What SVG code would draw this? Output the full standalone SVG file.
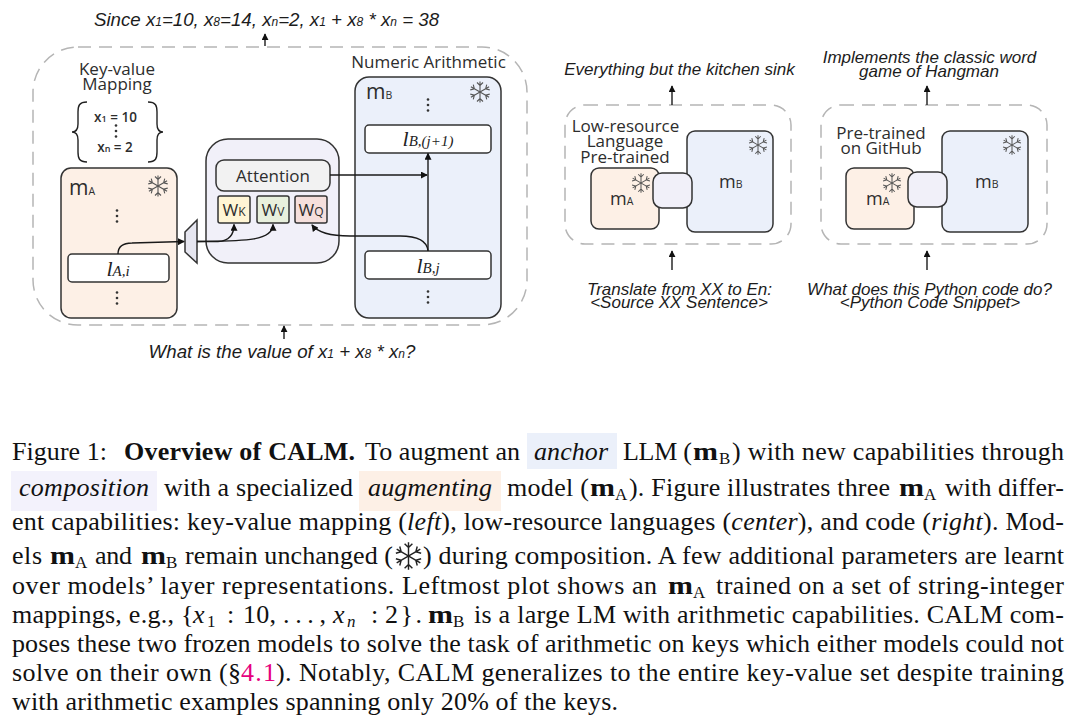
<svg xmlns="http://www.w3.org/2000/svg" width="1080" height="720" viewBox="0 0 1080 720">
<style>
.dash{fill:none;stroke:#b5b5b5;stroke-width:1.5;stroke-dasharray:13 8}
.box{stroke:#333;stroke-width:1.5}
.ma{fill:#fdf0e6}.mb{fill:#ebf0fa}.at{fill:#f1f0f9}
.wh{fill:#fff}
.lb{font-family:"Open Sans","Noto Sans",sans-serif;fill:#2d2d2d;font-size:17px;text-anchor:middle}
.it{font-family:"Liberation Sans",Arial,sans-serif;font-style:italic;fill:#1c1c1c;font-size:17px;text-anchor:middle}
.hd{font-size:18.7px}
.s{font-size:12px}
.kv{font-family:"Open Sans","Noto Sans",sans-serif;font-weight:600;fill:#2d2d2d;font-size:13.5px;text-anchor:middle}
.kv2{font-size:9px}
.m{font-family:"Open Sans","Noto Sans",sans-serif;fill:#2d2d2d;font-size:21px}
.m3{font-size:18px}
.m2{font-size:10.5px}
.w{font-family:"Open Sans","Noto Sans",sans-serif;fill:#2d2d2d;font-size:17px;text-anchor:middle}
.w2{font-size:12px}
.ll{font-family:"Liberation Serif",serif;font-style:italic;fill:#222;text-anchor:middle;font-size:15px}
.ll1{font-size:22px}
.c{font-family:"Liberation Serif",serif;fill:#111;font-size:26px}
.i{font-style:italic}
.b{font-weight:bold}
.sub{font-size:17px}
.pink{fill:#e6007e}
.con{fill:none;stroke:#1a1a1a;stroke-width:1.4}
.dot{fill:#333}
.cap-a{fill:#ebf0fa}.cap-c{fill:#f3f2fc}.cap-m{fill:#fdf0e6}
</style>
<defs>
<marker id="ah" viewBox="0 0 8 8" refX="7" refY="4" markerWidth="7" markerHeight="7" markerUnits="userSpaceOnUse" orient="auto"><path d="M0 0L8 4L0 8Z" fill="#111"/></marker>
<g id="arm" fill="none" stroke="currentColor" stroke-width="1.1"><path d="M0-10.500V10.500M-3-9.500L0-6.500L3-9.500M-3 9.500L0 6.500L3 9.500"/></g>
<g id="snow"><use href="#arm"/><use href="#arm" transform="rotate(60)"/><use href="#arm" transform="rotate(120)"/></g>
<g id="dots"><circle cx="0" cy="-5.500" r="1.3" class="dot"/><circle cx="0" cy="0" r="1.3" class="dot"/><circle cx="0" cy="5.500" r="1.3" class="dot"/></g>
</defs>
<rect width="1080" height="720" fill="#fff"/>

<g id="panel-left"><rect class="dash" x="33" y="47" width="494" height="278" rx="45"/></g>
<g id="panel-center"><rect class="dash" x="565" y="105" width="226" height="139" rx="20"/></g>
<g id="panel-right"><rect class="dash" x="821" y="105" width="226" height="139" rx="20"/></g>

<g id="left-titles">
<text class="it hd" x="266.500" y="26">Since x<tspan class="s">1</tspan>=10, x<tspan class="s">8</tspan>=14, x<tspan class="s">n</tspan>=2, x<tspan class="s">1</tspan> + x<tspan class="s">8</tspan> * x<tspan class="s">n</tspan> = 38</text>
<text class="it hd" x="282" y="358">What is the value of x<tspan class="s">1</tspan> + x<tspan class="s">8</tspan> * x<tspan class="s">n</tspan>?</text>
</g>

<g id="key-value">
<text class="lb" x="117" y="75">Key-value</text>
<text class="lb" x="117" y="90">Mapping</text>
<path d="M87 102C79 102 78 106 78 112V124C78 129 76 132 72 132C76 132 78 135 78 140V152C78 158 79 162 87 162" fill="none" stroke="#222" stroke-width="1.4"/>
<path d="M148 102C156 102 157 106 157 112V124C157 129 159 132 163 132C159 132 157 135 157 140V152C157 158 156 162 148 162" fill="none" stroke="#222" stroke-width="1.4"/>
<text class="kv" x="115.500" y="122">x<tspan class="kv2">1</tspan> = 10</text>
<use href="#dots" x="116" y="131"/>
<text class="kv" x="115" y="152">x<tspan class="kv2">n</tspan> = 2</text>
</g>

<g id="node-ma">
<rect class="box ma" x="61" y="168" width="116" height="150" rx="10"/>
<text class="m" x="69" y="195">m<tspan class="m2">A</tspan></text>
<use href="#snow" x="158" y="186" color="#555"/>
<use href="#dots" x="117" y="216"/>
<rect class="box wh" x="68" y="254" width="101" height="28" rx="4"/>
<text class="ll" x="118" y="276"><tspan class="ll1">l</tspan>A,i</text>
<use href="#dots" x="117" y="298"/>
</g>

<g id="node-attention">
<rect class="box at" x="206" y="139" width="133" height="124" rx="22"/>
<rect class="box" x="216" y="160" width="114" height="31" rx="8" fill="#f2f2f2"/>
<text class="lb" x="273" y="182">Attention</text>
<g id="wk"><rect class="box" x="218" y="196" width="32" height="27" rx="2" fill="#fff5d5"/><text class="w" x="234" y="215.500">W<tspan class="w2">K</tspan></text></g>
<g id="wv"><rect class="box" x="257" y="196" width="32" height="27" rx="2" fill="#e8f0dd"/><text class="w" x="273" y="215.500">W<tspan class="w2">V</tspan></text></g>
<g id="wq"><rect class="box" x="295" y="196" width="32" height="27" rx="2" fill="#f5dfdc"/><text class="w" x="311" y="215.500">W<tspan class="w2">Q</tspan></text></g>
</g>

<g id="node-proj"><path class="box" d="M185 232L197 220V263L185 252Z" fill="#e6e6f0"/></g>

<g id="node-mb">
<text class="lb" x="428.500" y="68">Numeric Arithmetic</text>
<rect class="box mb" x="355" y="77" width="146" height="241" rx="14"/>
<text class="m" x="366" y="99">m<tspan class="m2">B</tspan></text>
<use href="#snow" x="480" y="92" color="#555"/>
<use href="#dots" x="428" y="105"/>
<rect class="box wh" x="365" y="125" width="126" height="28" rx="4"/>
<text class="ll" x="428" y="146"><tspan class="ll1">l</tspan>B,(j+1)</text>
<rect class="box wh" x="365" y="251" width="126" height="28" rx="4"/>
<text class="ll" x="428" y="273"><tspan class="ll1">l</tspan>B,j</text>
<use href="#dots" x="428" y="297"/>
</g>

<g id="connectors">
<path class="con" marker-end="url(#ah)" d="M118 254C118 246 124 243 132 243L184 241.500"/>
<path class="con" marker-end="url(#ah)" d="M197 241.500H218C228 241 234 236 234 224.500"/>
<path class="con" marker-end="url(#ah)" d="M197 241.500C240 241 273 242 273 224.500"/>
<path class="con" marker-end="url(#ah)" d="M428 251C427 239 415 236 400 236H350C332 236 318 233 312 225"/>
<path class="con" marker-end="url(#ah)" d="M330 175H427"/>
<path class="con" marker-end="url(#ah)" d="M428 251V153.500"/>
<path class="con" marker-end="url(#ah)" d="M265 46V34"/>
<path class="con" marker-end="url(#ah)" d="M284 339V326"/>
<path class="con" marker-end="url(#ah)" d="M672 105V86"/>
<path class="con" marker-end="url(#ah)" d="M672 270V251"/>
<path class="con" marker-end="url(#ah)" d="M927 105V86"/>
<path class="con" marker-end="url(#ah)" d="M927 270V251"/>
</g>

<g id="center">
<text class="it" x="679.500" y="75">Everything but the kitchen sink</text>
<text class="lb" x="625.500" y="132">Low-resource</text>
<text class="lb" x="625" y="147">Language</text>
<text class="lb" x="625" y="163">Pre-trained</text>
<g id="center-ma"><rect class="box ma" x="591" y="168" width="68" height="61" rx="8"/><text class="m m3" x="610" y="205">m<tspan class="m2">A</tspan></text><use href="#snow" transform="translate(641 183) scale(.92)" color="#555"/></g>
<g id="center-mb"><rect class="box mb" x="687" y="131" width="86" height="101" rx="8"/><text class="m m3" x="719" y="188">m<tspan class="m2">B</tspan></text><use href="#snow" transform="translate(758 145) scale(.92)" color="#555"/></g>
<g id="center-comp"><rect class="box at" x="653" y="173" width="39" height="35" rx="9"/></g>
<text class="it" x="679.500" y="295">Translate from XX to En:</text>
<text class="it" x="679" y="308">&lt;Source XX Sentence&gt;</text>
</g>

<g id="right">
<text class="it" x="929.500" y="63">Implements the classic word</text>
<text class="it" x="929" y="77">game of Hangman</text>
<text class="lb" x="881" y="139">Pre-trained</text>
<text class="lb" x="881" y="154">on GitHub</text>
<g id="right-ma"><rect class="box ma" x="846" y="168" width="68" height="61" rx="8"/><text class="m m3" x="866" y="205">m<tspan class="m2">A</tspan></text><use href="#snow" transform="translate(892 183) scale(.92)" color="#555"/></g>
<g id="right-mb"><rect class="box mb" x="942" y="131" width="86" height="101" rx="8"/><text class="m m3" x="975" y="188">m<tspan class="m2">B</tspan></text><use href="#snow" transform="translate(1012 145) scale(.92)" color="#555"/></g>
<g id="right-comp"><rect class="box at" x="908" y="172" width="39" height="35" rx="9"/></g>
<text class="it" x="929.500" y="295">What does this Python code do?</text>
<text class="it" x="930" y="308">&lt;Python Code Snippet&gt;</text>
</g>

<g id="caption">
<rect class="cap-a" x="527" y="433" width="90" height="36"/>
<rect class="cap-c" x="11" y="471" width="146" height="40"/>
<rect class="cap-m" x="359" y="471" width="142" height="40"/>

<text class="c" x="12" y="460" textLength="95">Figure 1:</text>
<text class="c b" x="124" y="460" textLength="231">Overview of CALM.</text>
<text class="c" x="365" y="460" textLength="155">To augment an</text>
<text class="c i" x="534" y="460" textLength="74">anchor</text>
<text class="c" x="623" y="460" textLength="69">LLM (</text>
<text class="c b" x="693" y="460" textLength="25" lengthAdjust="spacingAndGlyphs">m</text><text class="c sub" x="719" y="464">B</text>
<text class="c" x="732" y="460" textLength="332">) with new capabilities through</text>

<text class="c i" x="19" y="496" textLength="130">composition</text>
<text class="c" x="164" y="496" textLength="189">with a specialized</text>
<text class="c i" x="368" y="496" textLength="124">augmenting</text>
<text class="c" x="507" y="496" textLength="82">model (</text>
<text class="c b" x="590" y="496" textLength="25" lengthAdjust="spacingAndGlyphs">m</text><text class="c sub" x="615" y="500">A</text>
<text class="c" x="629" y="496" textLength="261">). Figure illustrates three</text>
<text class="c b" x="899" y="496" textLength="25" lengthAdjust="spacingAndGlyphs">m</text><text class="c sub" x="924" y="500">A</text>
<text class="c" x="945" y="496" textLength="119">with differ-</text>

<text class="c" x="12" y="530" textLength="1052">ent capabilities: key-value mapping (<tspan class="i">left</tspan>), low-resource languages (<tspan class="i">center</tspan>), and code (<tspan class="i">right</tspan>). Mod-</text>

<text class="c" x="12" y="564" textLength="30">els</text>
<text class="c b" x="50" y="564" textLength="25" lengthAdjust="spacingAndGlyphs">m</text><text class="c sub" x="75" y="568">A</text>
<text class="c" x="95" y="564" textLength="37">and</text>
<text class="c b" x="141" y="564" textLength="25" lengthAdjust="spacingAndGlyphs">m</text><text class="c sub" x="166" y="568">B</text>
<text class="c" x="185" y="564" textLength="208">remain unchanged (</text>
<use href="#snow" transform="translate(408.500 556) scale(1.3)" color="#222"/>
<text class="c" x="423" y="564" textLength="641">) during composition. A few additional parameters are learnt</text>

<text class="c" x="12" y="594" textLength="645">over models’ layer representations. Leftmost plot shows an</text>
<text class="c b" x="668" y="594" textLength="25" lengthAdjust="spacingAndGlyphs">m</text><text class="c sub" x="693" y="598">A</text>
<text class="c" x="716" y="594" textLength="348">trained on a set of string-integer</text>

<text class="c" x="12" y="623" textLength="162">mappings, e.g.,</text>
<text class="c" x="181" y="623">{</text>
<text class="c i" x="193" y="623">x</text><text class="c sub" x="207" y="627">1</text>
<text class="c" x="227" y="623">:</text>
<text class="c" x="243" y="623" textLength="33">10,</text>
<text class="c" x="283" y="623" textLength="43">. . . ,</text>
<text class="c i" x="333" y="623">x</text><text class="c sub i" x="347" y="627">n</text>
<text class="c" x="371" y="623">:</text>
<text class="c" x="385" y="623" textLength="37">2}.</text>
<text class="c b" x="428" y="623" textLength="25" lengthAdjust="spacingAndGlyphs">m</text><text class="c sub" x="453" y="627">B</text>
<text class="c" x="474" y="623" textLength="590">is a large LM with arithmetic capabilities. CALM com-</text>

<text class="c" x="12" y="652" textLength="1052">poses these two frozen models to solve the task of arithmetic on keys which either models could not</text>

<text class="c" x="12" y="681" textLength="229">solve on their own (§</text>
<text class="c pink" x="241" y="681" textLength="35">4.1</text>
<text class="c" x="276" y="681" textLength="788">). Notably, CALM generalizes to the entire key-value set despite training</text>

<text class="c" x="12" y="710" textLength="606">with arithmetic examples spanning only 20% of the keys.</text>
</g>
</svg>
